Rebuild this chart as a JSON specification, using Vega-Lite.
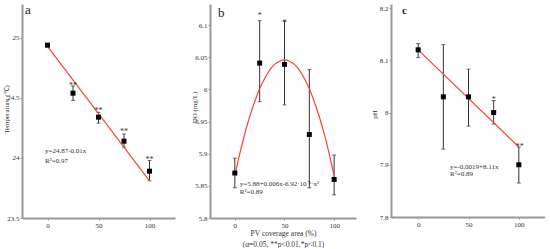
{
  "$schema": "https://vega.github.io/schema/vega-lite/v6.json",
  "padding": {"left": 2, "top": 3, "right": 0, "bottom": 0},
  "background": "white",
  "spacing": 35,
  "bounds": "flush",
  "align": "none",
  "config": {
    "view": {"stroke": null},
    "font": "Liberation Serif",
    "axis": {
      "domainColor": "#999999", "domainWidth": 2, "tickColor": "#999999", "tickSize": 2, "tickWidth": 1,
      "labelFont": "Liberation Serif", "labelFontSize": 7, "labelColor": "#333333", "labelPadding": 1, "labelOverlap": false,
      "labelSeparation": -40, "labelBound": false, "labelFlush": false,
      "titleFont": "Liberation Serif", "titleFontSize": 7, "titleFontWeight": "normal", "titleColor": "#333333",
      "grid": false
    }
  },
  "datasets": {
    "tempPts": [
      {"area": 0, "mean": 24.94, "lo": 24.93, "hi": 24.95},
      {"area": 25, "mean": 24.54, "lo": 24.48, "hi": 24.60},
      {"area": 50, "mean": 24.34, "lo": 24.29, "hi": 24.38},
      {"area": 75, "mean": 24.14, "lo": 24.09, "hi": 24.20},
      {"area": 100, "mean": 23.89, "lo": 23.81, "hi": 23.98}
    ],
    "tempFit": [{"area": 0, "v": 24.93}, {"area": 100, "v": 23.81}],
    "tempStars": [
      {"area": 25, "v": 24.62, "label": "**"},
      {"area": 50, "v": 24.41, "label": "**"},
      {"area": 75, "v": 24.23, "label": "**"},
      {"area": 100, "v": 24.0, "label": "**"}
    ],
    "tempText": [
      {"area": -2.5, "v": 24.06, "label": "y=24.87-0.01x"},
      {"area": -2.5, "v": 23.975, "label": "R²=0.97"}
    ],
    "tempLetter": [{"area": -22, "v": 25.2, "label": "a"}],
    "doPts": [
      {"area": 0, "mean": 5.870, "lo": 5.847, "hi": 5.893},
      {"area": 25, "mean": 6.041, "lo": 5.981, "hi": 6.107},
      {"area": 50, "mean": 6.039, "lo": 5.976, "hi": 6.106},
      {"area": 75, "mean": 5.930, "lo": 5.847, "hi": 6.031},
      {"area": 100, "mean": 5.860, "lo": 5.836, "hi": 5.898}
    ],
    "doFit": [
      {"area": 0, "v": 5.866}, {"area": 5, "v": 5.900}, {"area": 10, "v": 5.931}, {"area": 15, "v": 5.958},
      {"area": 20, "v": 5.981}, {"area": 25, "v": 6.001}, {"area": 30, "v": 6.017}, {"area": 35, "v": 6.030},
      {"area": 40, "v": 6.039}, {"area": 45, "v": 6.044}, {"area": 50, "v": 6.046}, {"area": 55, "v": 6.044},
      {"area": 60, "v": 6.039}, {"area": 65, "v": 6.030}, {"area": 70, "v": 6.017}, {"area": 75, "v": 6.001},
      {"area": 80, "v": 5.981}, {"area": 85, "v": 5.958}, {"area": 90, "v": 5.931}, {"area": 95, "v": 5.900},
      {"area": 100, "v": 5.866}
    ],
    "doStars": [
      {"area": 25, "v": 6.117, "label": "*"},
      {"area": 50, "v": 6.106, "label": "*"}
    ],
    "doText": [
      {"area": 5, "v": 5.853, "label": "y=5.88+0.006x-6.92·10⁻⁵·x²"},
      {"area": 5, "v": 5.841, "label": "R²=0.89"}
    ],
    "doLetter": [{"area": -17, "v": 6.112, "label": "b"}],
    "phPts": [
      {"area": 0, "mean": 8.12, "lo": 8.105, "hi": 8.132},
      {"area": 25, "mean": 8.03, "lo": 7.93, "hi": 8.13},
      {"area": 50, "mean": 8.03, "lo": 7.974, "hi": 8.083},
      {"area": 75, "mean": 8.00, "lo": 7.978, "hi": 8.023},
      {"area": 100, "mean": 7.90, "lo": 7.865, "hi": 7.934}
    ],
    "phFit": [{"area": 0, "v": 8.12}, {"area": 100, "v": 7.934}],
    "phStars": [
      {"area": 75, "v": 8.028, "label": "*"},
      {"area": 101, "v": 7.938, "label": "**"}
    ],
    "phText": [
      {"area": 31.7, "v": 7.896, "label": "y=-0.0019+8.11x"},
      {"area": 31.7, "v": 7.882, "label": "R²=0.89"}
    ],
    "phLetter": [{"area": -16, "v": 8.1885, "label": "c"}]
  },
  "hconcat": [
    {
      "width": 153, "height": 214,
      "layer": [
        {
          "data": {"name": "tempPts"},
          "mark": {"type": "rule", "color": "#333333", "strokeWidth": 1},
          "encoding": {
            "x": {"field": "area", "type": "quantitative", "scale": {"domain": [-25, 125], "nice": false, "zero": false},
                  "axis": {"title": null, "values": [0, 25, 50, 75, 100], "labelOverlap": false, "labelExpr": "datum.value % 50 == 0 ? format(datum.value, 'd') : ''"}},
            "y": {"field": "lo", "type": "quantitative", "scale": {"domain": [23.5, 25.283], "nice": false, "zero": false},
                  "axis": {"title": "Temperature (℃)", "values": [23.5, 24, 24.5, 25], "labelOverlap": false, "titleX": -12.5, "titleY": 105,
                           "labelExpr": "format(datum.value, '.1~f')"}},
            "y2": {"field": "hi"}
          }
        },
        {
          "data": {"name": "tempPts"},
          "mark": {"type": "tick", "orient": "horizontal", "color": "#333333", "size": 4, "thickness": 1},
          "encoding": {"x": {"field": "area", "type": "quantitative"}, "y": {"field": "lo", "type": "quantitative"}}
        },
        {
          "data": {"name": "tempPts"},
          "mark": {"type": "tick", "orient": "horizontal", "color": "#333333", "size": 4, "thickness": 1},
          "encoding": {"x": {"field": "area", "type": "quantitative"}, "y": {"field": "hi", "type": "quantitative"}}
        },
        {
          "data": {"name": "tempFit"},
          "mark": {"type": "line", "color": "#f0453a", "strokeWidth": 1.2},
          "encoding": {"x": {"field": "area", "type": "quantitative"}, "y": {"field": "v", "type": "quantitative"}}
        },
        {
          "data": {"name": "tempPts"},
          "mark": {"type": "square", "filled": true, "color": "#000000", "size": 25, "opacity": 1},
          "encoding": {"x": {"field": "area", "type": "quantitative"}, "y": {"field": "mean", "type": "quantitative"}}
        },
        {
          "data": {"name": "tempStars"},
          "mark": {"type": "text", "fontSize": 8, "color": "#333333", "baseline": "middle", "dy": 2},
          "encoding": {"x": {"field": "area", "type": "quantitative"}, "y": {"field": "v", "type": "quantitative"}, "text": {"field": "label"}}
        },
        {
          "data": {"name": "tempText"},
          "mark": {"type": "text", "fontSize": 7, "color": "#333333", "align": "left", "baseline": "middle"},
          "encoding": {"x": {"field": "area", "type": "quantitative"}, "y": {"field": "v", "type": "quantitative"}, "text": {"field": "label"}}
        },
        {
          "data": {"name": "tempLetter"},
          "mark": {"type": "text", "fontSize": 13, "color": "#222222", "align": "left", "baseline": "alphabetic"},
          "encoding": {"x": {"field": "area", "type": "quantitative"}, "y": {"field": "v", "type": "quantitative"}, "text": {"field": "label"}}
        }
      ]
    },
    {
      "width": 146, "height": 214,
      "layer": [
        {
          "data": {"name": "doPts"},
          "mark": {"type": "rule", "color": "#333333", "strokeWidth": 1},
          "encoding": {
            "x": {"field": "area", "type": "quantitative", "scale": {"domain": [-25, 122], "nice": false, "zero": false},
                  "axis": {"title": ["PV coverage area (%)", "(α=0.05, **p<0.01,*p<0.1)"], "titleFontSize": 7.5, "titleLineHeight": 11, "titlePadding": 1,
                           "values": [0, 25, 50, 75, 100], "labelOverlap": false, "labelExpr": "datum.value % 50 == 0 ? format(datum.value, 'd') : ''"}},
            "y": {"field": "lo", "type": "quantitative", "scale": {"domain": [5.8, 6.133], "nice": false, "zero": false},
                  "axis": {"title": "DO (mg/L)", "values": [5.8, 5.85, 5.9, 5.95, 6, 6.05, 6.1], "tickCount": 7, "labelOverlap": false, "labelSeparation": -40,
                           "titleX": -12.5, "titleY": 103, "labelExpr": "format(datum.value, '.2~f')"}},
            "y2": {"field": "hi"}
          }
        },
        {
          "data": {"name": "doPts"},
          "mark": {"type": "tick", "orient": "horizontal", "color": "#333333", "size": 4, "thickness": 1},
          "encoding": {"x": {"field": "area", "type": "quantitative"}, "y": {"field": "lo", "type": "quantitative"}}
        },
        {
          "data": {"name": "doPts"},
          "mark": {"type": "tick", "orient": "horizontal", "color": "#333333", "size": 4, "thickness": 1},
          "encoding": {"x": {"field": "area", "type": "quantitative"}, "y": {"field": "hi", "type": "quantitative"}}
        },
        {
          "data": {"name": "doFit"},
          "mark": {"type": "line", "color": "#f0453a", "strokeWidth": 1.2, "interpolate": "natural"},
          "encoding": {"x": {"field": "area", "type": "quantitative"}, "y": {"field": "v", "type": "quantitative"}}
        },
        {
          "data": {"name": "doPts"},
          "mark": {"type": "square", "filled": true, "color": "#000000", "size": 25, "opacity": 1},
          "encoding": {"x": {"field": "area", "type": "quantitative"}, "y": {"field": "mean", "type": "quantitative"}}
        },
        {
          "data": {"name": "doStars"},
          "mark": {"type": "text", "fontSize": 8, "color": "#333333", "baseline": "middle", "dy": 2},
          "encoding": {"x": {"field": "area", "type": "quantitative"}, "y": {"field": "v", "type": "quantitative"}, "text": {"field": "label"}}
        },
        {
          "data": {"name": "doText"},
          "mark": {"type": "text", "fontSize": 7, "color": "#333333", "align": "left", "baseline": "middle"},
          "encoding": {"x": {"field": "area", "type": "quantitative"}, "y": {"field": "v", "type": "quantitative"}, "text": {"field": "label"}}
        },
        {
          "data": {"name": "doLetter"},
          "mark": {"type": "text", "fontSize": 13, "color": "#222222", "align": "left", "baseline": "alphabetic"},
          "encoding": {"x": {"field": "area", "type": "quantitative"}, "y": {"field": "v", "type": "quantitative"}, "text": {"field": "label"}}
        }
      ]
    },
    {
      "width": 154, "height": 213,
      "layer": [
        {
          "data": {"name": "phPts"},
          "mark": {"type": "rule", "color": "#333333", "strokeWidth": 1},
          "encoding": {
            "x": {"field": "area", "type": "quantitative", "scale": {"domain": [-27, 126], "nice": false, "zero": false},
                  "axis": {"title": null, "values": [0, 25, 50, 75, 100], "labelOverlap": false, "labelExpr": "datum.value % 50 == 0 ? format(datum.value, 'd') : ''"}},
            "y": {"field": "lo", "type": "quantitative", "scale": {"domain": [7.8, 8.2077], "nice": false, "zero": false},
                  "axis": {"title": "pH", "values": [7.8, 7.85, 7.9, 7.95, 8, 8.05, 8.1, 8.15, 8.2], "labelOverlap": false, "titleX": -13.5, "titleY": 110,
                           "labelExpr": "abs(datum.value * 10 - round(datum.value * 10)) < 0.01 ? format(datum.value, '.1~f') : ''"}},
            "y2": {"field": "hi"}
          }
        },
        {
          "data": {"name": "phPts"},
          "mark": {"type": "tick", "orient": "horizontal", "color": "#333333", "size": 4, "thickness": 1},
          "encoding": {"x": {"field": "area", "type": "quantitative"}, "y": {"field": "lo", "type": "quantitative"}}
        },
        {
          "data": {"name": "phPts"},
          "mark": {"type": "tick", "orient": "horizontal", "color": "#333333", "size": 4, "thickness": 1},
          "encoding": {"x": {"field": "area", "type": "quantitative"}, "y": {"field": "hi", "type": "quantitative"}}
        },
        {
          "data": {"name": "phFit"},
          "mark": {"type": "line", "color": "#f0453a", "strokeWidth": 1.2},
          "encoding": {"x": {"field": "area", "type": "quantitative"}, "y": {"field": "v", "type": "quantitative"}}
        },
        {
          "data": {"name": "phPts"},
          "mark": {"type": "square", "filled": true, "color": "#000000", "size": 25, "opacity": 1},
          "encoding": {"x": {"field": "area", "type": "quantitative"}, "y": {"field": "mean", "type": "quantitative"}}
        },
        {
          "data": {"name": "phStars"},
          "mark": {"type": "text", "fontSize": 8, "color": "#333333", "baseline": "middle", "dy": 2},
          "encoding": {"x": {"field": "area", "type": "quantitative"}, "y": {"field": "v", "type": "quantitative"}, "text": {"field": "label"}}
        },
        {
          "data": {"name": "phText"},
          "mark": {"type": "text", "fontSize": 7, "color": "#333333", "align": "left", "baseline": "middle"},
          "encoding": {"x": {"field": "area", "type": "quantitative"}, "y": {"field": "v", "type": "quantitative"}, "text": {"field": "label"}}
        },
        {
          "data": {"name": "phLetter"},
          "mark": {"type": "text", "fontSize": 11, "fontWeight": "bold", "color": "#222222", "align": "left", "baseline": "alphabetic"},
          "encoding": {"x": {"field": "area", "type": "quantitative"}, "y": {"field": "v", "type": "quantitative"}, "text": {"field": "label"}}
        }
      ]
    }
  ]
}
